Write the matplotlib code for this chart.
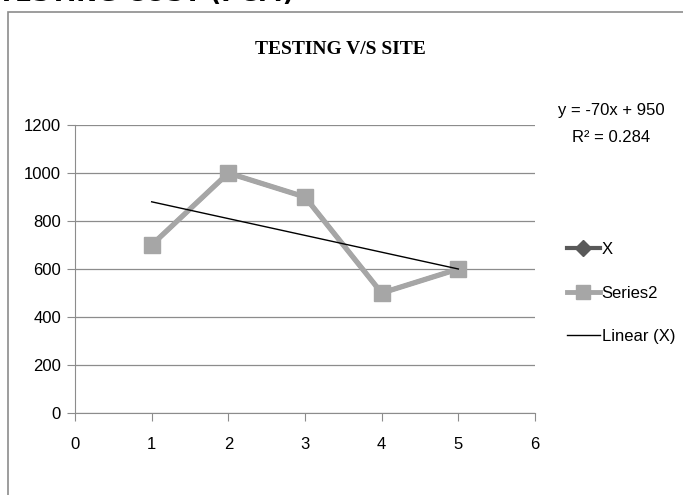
import numpy as np
import matplotlib.pyplot as plt
from matplotlib.patches import Rectangle
from matplotlib.lines import Line2D
from matplotlib import font_manager

x_vals = [1, 2, 3, 4, 5]
x_series = [700, 1000, 900, 500, 600]
series2 = [700, 1000, 900, 500, 600]
x_ticks = [0, 1, 2, 3, 4, 5, 6]
y_ticks = [0, 200, 400, 600, 800, 1000, 1200]
trend_labels = ['y = -70x + 950', 'R² = 0.284']

names = {f.name for f in font_manager.fontManager.ttflist}
narrow = 'Liberation Sans Narrow' if 'Liberation Sans Narrow' in names else 'Liberation Sans'
plt.rcParams['font.family'] = [narrow, 'DejaVu Sans']

fig = plt.figure(figsize=(6.83, 4.95), dpi=100)

# outer chart frame (cut by image edge)
fig.patches.append(Rectangle((8 / 683, -0.1), 1.0, 1 - 12 / 495 + 0.1,
                             transform=fig.transFigure, fill=False,
                             edgecolor='#8c8c8c', linewidth=1.2))
# heading cut off at the top, as in the source page
fig.text(-0.003, 1 - 1 / 495, 'TESTING COST (PCM)', fontsize=18, fontweight='bold',
         family='DejaVu Sans', va='baseline', ha='left')

ax = fig.add_axes([75 / 683, 1 - 413 / 495, 460 / 683, 288 / 495])

ax.plot(x_vals, x_series, color='#595959', linewidth=3, marker='D',
        markersize=8, zorder=3)
ax.plot(x_vals, series2, color='#a6a6a6', linewidth=3.8, marker='s',
        markersize=11, zorder=4)

# linear trendline of X
slope, intercept = np.polyfit(x_vals, x_series, 1)
xs = np.array([min(x_vals), max(x_vals)])
ax.plot(xs, slope * xs + intercept, color='black', linewidth=1, zorder=5)

ax.set_xlim(0, 6)
ax.set_ylim(0, 1200)
ax.set_xticks(x_ticks)
ax.set_yticks(y_ticks)
ax.yaxis.grid(True, color='#8c8c8c', linewidth=0.9)
ax.set_axisbelow(True)
for s in ['top', 'right']:
    ax.spines[s].set_visible(False)
for s in ['left', 'bottom']:
    ax.spines[s].set_color('#8c8c8c')
ax.tick_params(axis='both', colors='#8c8c8c', labelcolor='black', labelsize=12,
               length=6, direction='out')
ax.tick_params(axis='x', pad=11)
ax.tick_params(axis='y', pad=4)

fig.text(340 / 683, 1 - 50 / 495, 'TESTING V/S SITE', family='Liberation Serif',
         fontweight='bold', fontsize=14, ha='center', va='center')

fig.text(611 / 683, 1 - 111 / 495, trend_labels[0], fontsize=12,
         ha='center', va='center')
fig.text(611 / 683, 1 - 138 / 495, trend_labels[1], fontsize=12,
         ha='center', va='center')

handles = [
    Line2D([], [], color='#595959', linewidth=3, marker='D', markersize=8),
    Line2D([], [], color='#a6a6a6', linewidth=3.5, marker='s', markersize=10),
    Line2D([], [], color='black', linewidth=1),
]
fig.legend(handles, ['X', 'Series2', 'Linear (X)'], loc='center left',
           bbox_to_anchor=(560 / 683, 1 - 293 / 495), frameon=False, fontsize=12,
           handlelength=2.0, handletextpad=0.1, labelspacing=1.7, borderaxespad=0)

fig.savefig('out.png', dpi=100)
